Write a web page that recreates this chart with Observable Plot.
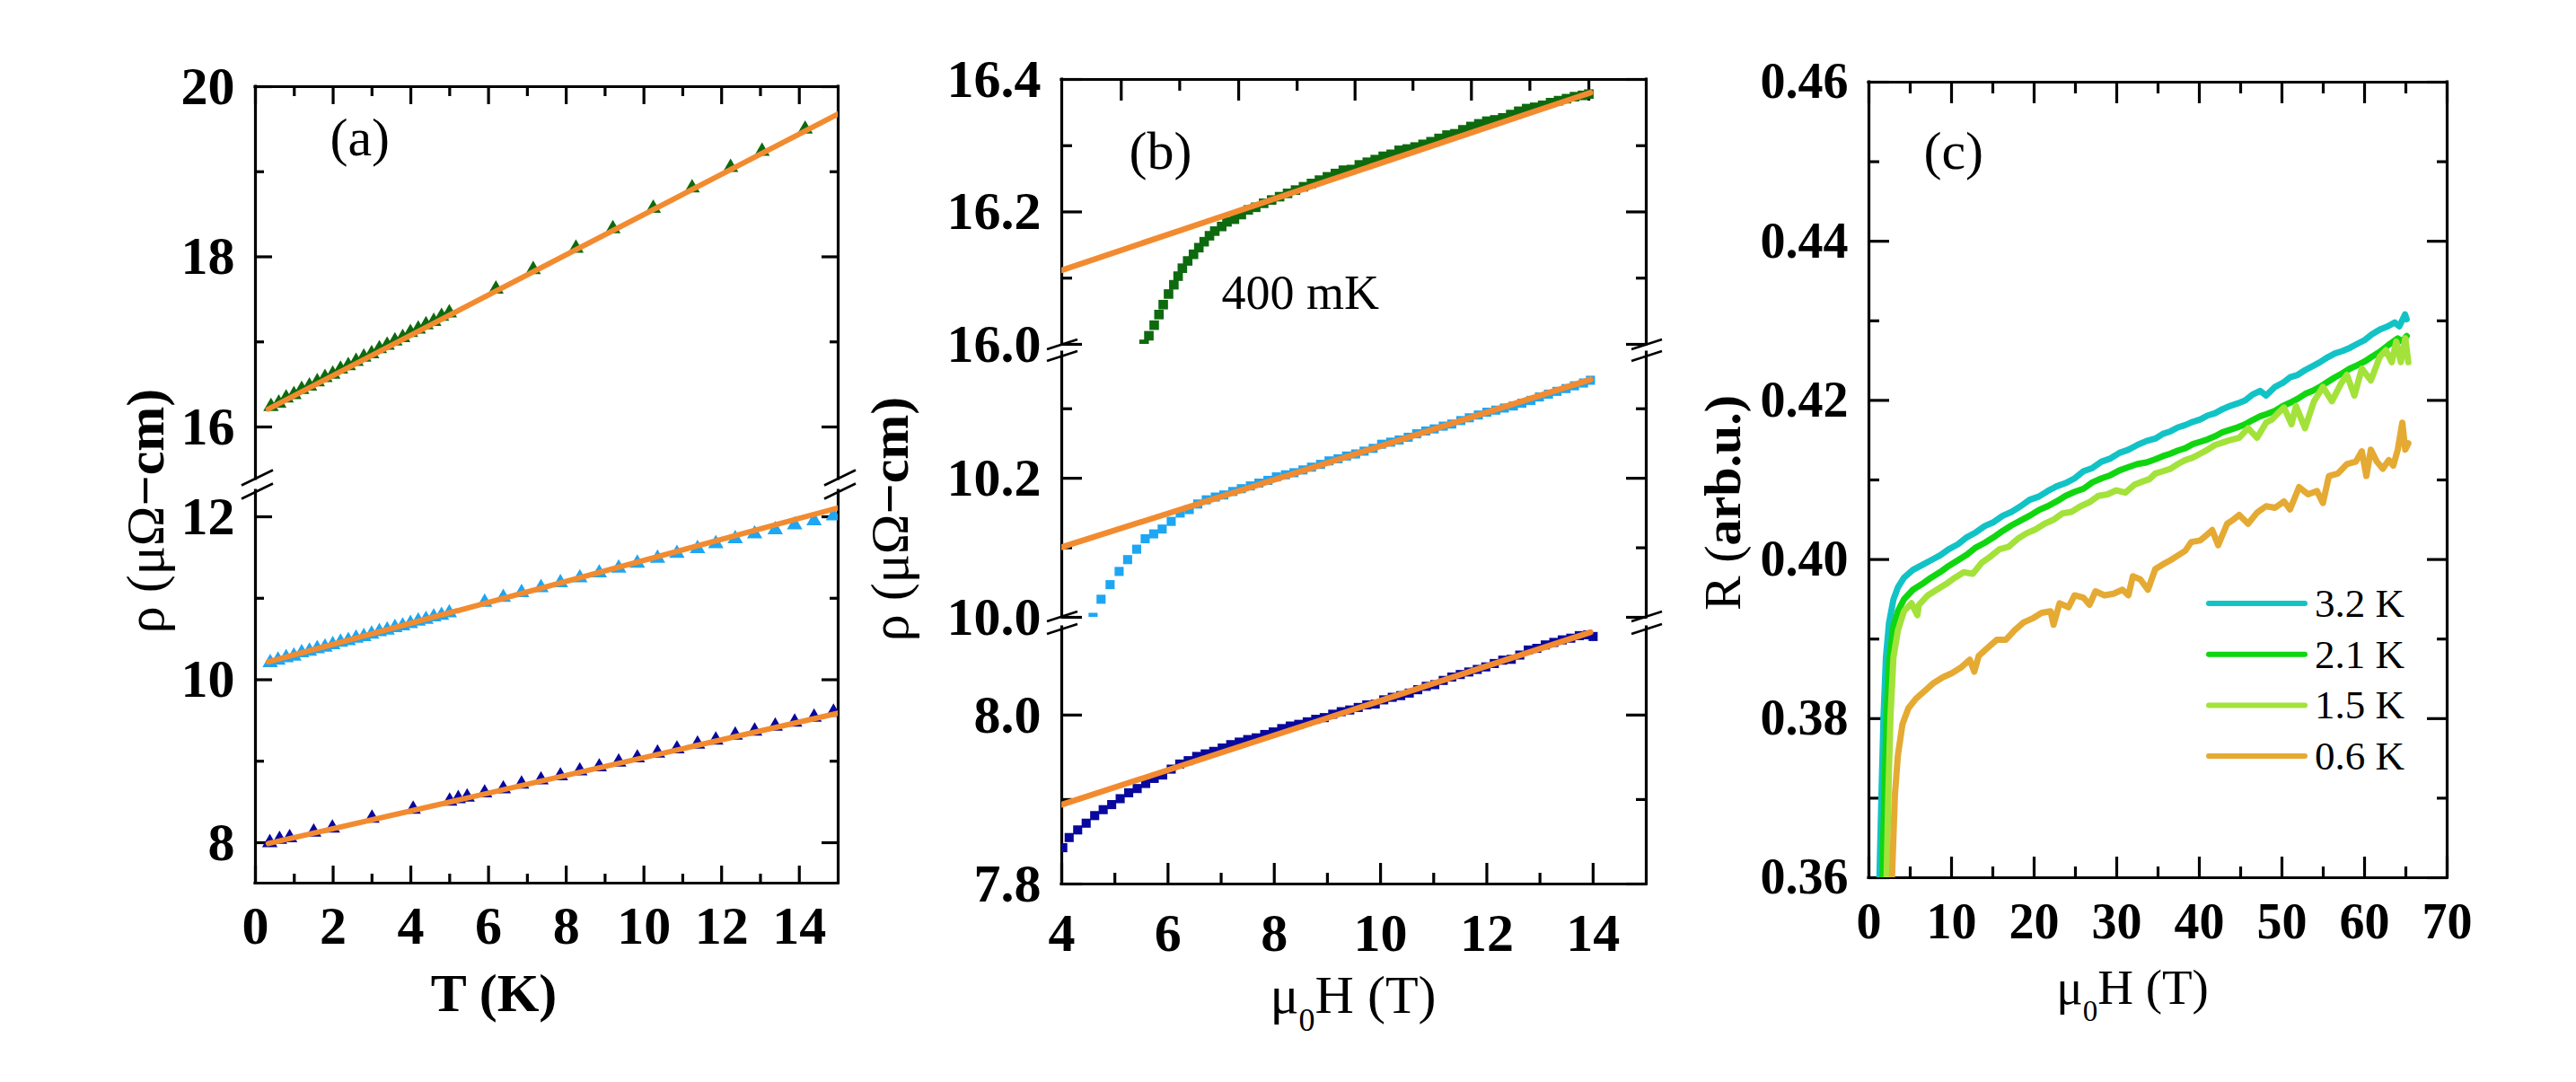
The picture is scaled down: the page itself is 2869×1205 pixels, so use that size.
<!DOCTYPE html>
<html>
<head>
<meta charset="utf-8">
<script src="https://cdn.jsdelivr.net/npm/d3@7"></script>
<script src="https://cdn.jsdelivr.net/npm/@observablehq/plot@0.6"></script>
<style>
  html, body { margin: 0; padding: 0; background: #fff; }
  #figure { position: relative; width: 2869px; height: 1205px; background: #fff; overflow: hidden; }
  #figure svg { position: absolute; left: 0; top: 0; }
</style>
</head>
<body>
<div id="figure"></div>
<script>
// ---------------- (a) resistivity vs temperature, three traces ----------------
const aTempGreen = [0.40,0.60,0.79,0.99,1.19,1.39,1.59,1.79,1.99,2.19,2.39,2.59,2.79,2.99,3.19,3.39,3.59,3.79,3.99,4.19,4.39,4.59,4.79,4.99,6.19,7.15,8.25,9.20,10.24,11.24,12.23,13.04,14.15];
const aRhoGreen  = [16.24,16.28,16.34,16.38,16.44,16.48,16.53,16.58,16.62,16.68,16.72,16.77,16.82,16.86,16.92,16.96,17.01,17.05,17.11,17.15,17.20,17.24,17.30,17.34,17.62,17.85,18.10,18.33,18.57,18.81,19.05,19.24,19.50];

const aTempBlue = [0.38,0.58,0.79,0.99,1.19,1.39,1.59,1.79,1.99,2.19,2.39,2.59,2.79,2.99,3.19,3.39,3.59,3.79,3.99,4.19,4.39,4.59,4.79,4.99,5.90,6.38,6.85,7.35,7.85,8.35,8.85,9.35,9.83,10.35,10.85,11.38,11.85,12.35,12.85,13.38,13.88,14.38,14.88];
const aRhoBlue  = [10.21,10.24,10.27,10.29,10.33,10.35,10.38,10.40,10.43,10.46,10.48,10.51,10.53,10.56,10.59,10.61,10.64,10.66,10.69,10.72,10.74,10.77,10.79,10.82,10.95,11.01,11.07,11.13,11.19,11.25,11.31,11.37,11.43,11.49,11.55,11.61,11.67,11.73,11.79,11.84,11.90,11.95,12.01];

const aTempNavy = [0.37,0.62,0.88,1.50,1.98,3.00,4.06,5.00,5.22,5.45,5.90,6.38,6.85,7.35,7.85,8.35,8.85,9.35,9.83,10.35,10.85,11.38,11.85,12.35,12.85,13.38,13.88,14.38,14.88];
const aRhoNavy  = [8.00,8.04,8.06,8.13,8.18,8.30,8.41,8.51,8.54,8.56,8.61,8.66,8.72,8.77,8.82,8.88,8.93,8.99,9.04,9.10,9.15,9.21,9.26,9.32,9.37,9.43,9.48,9.54,9.60];

// linear fits (end points)
const aFitT     = [0.33, 15];
const aFitGreen = [16.21, 19.68];
const aFitBlue  = [10.22, 12.11];
const aFitNavy  = [7.99, 9.59];

const aTempTicks = [0, 2, 4, 6, 8, 10, 12, 14];
const aTempMinor = [1, 3, 5, 7, 9, 11, 13];
const aRhoTicksUpper = [16, 18, 20];
const aRhoMinorUpper = [17, 19];
const aRhoTicksLower = [8, 10, 12];
const aRhoMinorLower = [9, 11];

// ---------------- (b) resistivity vs field ----------------
const bFieldGreen = [5.55,5.64,5.74,5.83,5.91,6.01,6.11,6.19,6.27,6.37,6.48,6.58,6.68,6.78,6.88,7.01,7.11,7.25,7.38,7.51,7.65,7.80,7.95,8.10,8.25,8.40,8.55,8.70,8.85,9.00,9.15,9.30,9.45,9.60,9.75,9.90,10.05,10.20,10.35,10.50,10.65,10.80,10.95,11.10,11.25,11.40,11.55,11.70,11.85,12.00,12.15,12.30,12.45,12.60,12.75,12.90,13.05,13.20,13.35,13.50,13.65,13.80,13.92];
const bRhoGreen   = [16.000,16.013,16.029,16.045,16.060,16.076,16.090,16.103,16.115,16.126,16.136,16.146,16.155,16.164,16.171,16.178,16.185,16.189,16.196,16.203,16.207,16.213,16.218,16.223,16.228,16.233,16.238,16.243,16.248,16.253,16.258,16.263,16.264,16.271,16.275,16.279,16.284,16.287,16.293,16.295,16.298,16.302,16.306,16.311,16.316,16.318,16.324,16.329,16.333,16.337,16.339,16.342,16.347,16.352,16.356,16.358,16.361,16.365,16.368,16.371,16.374,16.376,16.378];

const bFieldBlue = [4.59,4.74,4.91,5.08,5.24,5.41,5.57,5.73,5.89,6.06,6.23,6.40,6.56,6.72,6.89,7.05,7.22,7.38,7.55,7.71,7.88,8.04,8.21,8.37,8.54,8.70,8.87,9.03,9.20,9.36,9.53,9.69,9.86,10.02,10.19,10.35,10.52,10.68,10.85,11.01,11.18,11.34,11.51,11.67,11.84,12.00,12.17,12.33,12.50,12.66,12.83,12.99,13.16,13.32,13.49,13.65,13.82,13.95];
const bRhoBlue   = [10.000,10.026,10.047,10.066,10.083,10.098,10.113,10.120,10.127,10.138,10.150,10.155,10.163,10.169,10.173,10.176,10.181,10.185,10.189,10.193,10.197,10.202,10.205,10.208,10.212,10.216,10.220,10.225,10.228,10.232,10.235,10.239,10.243,10.249,10.252,10.255,10.259,10.264,10.268,10.271,10.275,10.278,10.283,10.287,10.291,10.295,10.298,10.301,10.304,10.308,10.312,10.317,10.321,10.325,10.329,10.333,10.337,10.341];

const bFieldNavy = [4.02,4.14,4.30,4.46,4.62,4.78,4.94,5.10,5.26,5.42,5.58,5.74,5.90,6.06,6.22,6.38,6.54,6.70,6.86,7.02,7.18,7.34,7.50,7.66,7.82,7.98,8.14,8.30,8.46,8.62,8.78,8.94,9.10,9.26,9.42,9.58,9.74,9.90,10.06,10.22,10.38,10.54,10.70,10.86,11.02,11.18,11.34,11.50,11.66,11.82,11.98,12.14,12.30,12.46,12.62,12.78,12.94,13.10,13.26,13.42,13.58,13.74,13.90,14.00];
const bRhoNavy   = [7.843,7.855,7.864,7.872,7.881,7.888,7.894,7.901,7.908,7.913,7.919,7.925,7.929,7.936,7.942,7.946,7.951,7.954,7.957,7.961,7.965,7.968,7.971,7.973,7.977,7.980,7.984,7.987,7.989,7.992,7.995,7.997,8.001,8.004,8.006,8.009,8.012,8.013,8.018,8.021,8.023,8.026,8.030,8.034,8.036,8.041,8.045,8.048,8.051,8.054,8.057,8.061,8.065,8.066,8.071,8.077,8.079,8.083,8.086,8.089,8.091,8.094,8.095,8.093];

const bFitField = [4.0, 13.95];
const bFitGreen = [16.112, 16.380];
const bFitBlue  = [10.101, 10.342];
const bFitNavy  = [7.894, 8.098];

const bFieldTicks    = [4, 6, 8, 10, 12, 14];
const bFieldMinor    = [5, 7, 9, 11, 13];
const bFieldTopTicks = [5.12, 7.33, 9.52, 11.71, 13.92];
const bFieldTopMinor = [6.22, 8.43, 10.61, 12.81];
const bRhoTicksUpper = [16.0, 16.2, 16.4];
const bRhoMinorUpper = [16.1, 16.3];
const bRhoTicksMiddle = [10.0, 10.2];
const bRhoMinorMiddle = [10.1, 10.3];
const bRhoTicksLower = [7.8, 8.0];
const bRhoMinorLower = [7.9];
const bNote = "400 mK";

// ---------------- (c) high-field resistance ----------------
const cTempLabels = ["3.2 K", "2.1 K", "1.5 K", "0.6 K"];
const cColors = ["#12c3c6", "#10d610", "#a3e23a", "#e5aa33"];

const cField32 = [1.27,1.52,1.77,2.06,2.43,2.97,3.51,4.24,5.33,6.41,7.50,8.59,9.67,10.76,11.85,12.93,14.02,15.10,16.20,17.28,18.37,19.45,20.54,21.63,22.71,23.80,24.89,25.98,27.06,28.15,29.24,30.32,31.41,32.50,33.60,34.67,35.60,36.49,37.40,38.30,39.20,40.11,41.00,41.92,42.80,43.73,44.60,45.54,46.40,47.35,48.08,49.17,50.10,50.98,51.90,52.79,53.70,54.60,55.50,56.41,57.30,58.22,59.10,60.04,60.90,61.85,62.80,63.66,64.20,64.90,65.10];
const cR32     = [0.3600,0.3705,0.3803,0.3877,0.3920,0.3950,0.3965,0.3977,0.3987,0.3993,0.3999,0.4005,0.4013,0.4019,0.4028,0.4034,0.4042,0.4047,0.4055,0.4060,0.4067,0.4075,0.4079,0.4086,0.4092,0.4096,0.4102,0.4111,0.4115,0.4123,0.4127,0.4134,0.4138,0.4144,0.4149,0.4152,0.4158,0.4161,0.4166,0.4169,0.4173,0.4176,0.4181,0.4184,0.4189,0.4193,0.4196,0.4200,0.4207,0.4212,0.4206,0.4217,0.4222,0.4229,0.4232,0.4238,0.4243,0.4248,0.4254,0.4259,0.4262,0.4266,0.4271,0.4276,0.4283,0.4289,0.4293,0.4298,0.4293,0.4308,0.4302];

const cField21 = [1.63,1.88,2.14,2.50,2.97,3.51,4.24,5.33,6.41,7.50,8.59,9.67,10.76,11.85,12.93,14.02,15.10,16.20,17.28,18.37,19.45,20.54,21.63,22.71,23.80,24.89,25.98,27.06,28.15,29.24,30.32,31.41,32.50,33.60,34.67,35.60,36.49,37.40,38.30,39.20,40.11,41.00,41.92,42.80,43.73,44.60,45.54,46.40,47.35,48.20,49.17,50.10,50.98,51.90,52.79,53.70,54.60,55.50,56.41,57.30,58.22,59.10,60.04,60.90,61.85,62.94,64.02,64.57,65.10];
const cR21     = [0.3600,0.3705,0.3803,0.3877,0.3916,0.3935,0.3950,0.3962,0.3969,0.3977,0.3984,0.3992,0.3999,0.4006,0.4015,0.4021,0.4028,0.4036,0.4043,0.4049,0.4055,0.4062,0.4067,0.4073,0.4080,0.4085,0.4089,0.4097,0.4102,0.4106,0.4112,0.4116,0.4120,0.4122,0.4126,0.4130,0.4133,0.4137,0.4140,0.4145,0.4148,0.4151,0.4155,0.4160,0.4163,0.4166,0.4170,0.4175,0.4180,0.4183,0.4187,0.4193,0.4197,0.4202,0.4208,0.4212,0.4217,0.4223,0.4229,0.4234,0.4240,0.4244,0.4249,0.4255,0.4261,0.4270,0.4278,0.4274,0.4281];

const cField15 = [2.14,2.35,2.61,2.97,3.51,4.24,5.15,5.87,6.05,7.14,8.22,9.31,10.40,11.48,12.57,13.66,14.75,15.83,16.92,18.01,19.09,20.18,21.27,22.35,23.44,24.53,25.62,26.70,27.79,28.88,29.96,31.05,32.14,32.86,33.95,34.67,35.60,36.49,37.40,38.30,39.20,40.11,41.00,41.92,42.80,43.73,44.82,45.90,46.99,48.08,48.80,49.53,50.25,51.16,51.70,52.79,53.88,54.96,56.05,57.14,57.86,58.77,59.67,60.76,61.85,62.58,63.30,63.84,64.39,64.93,65.30];
const cR15     = [0.3600,0.3705,0.3803,0.3877,0.3911,0.3935,0.3945,0.3930,0.3943,0.3955,0.3962,0.3969,0.3977,0.3984,0.3982,0.3996,0.4004,0.4013,0.4016,0.4026,0.4033,0.4038,0.4045,0.4050,0.4058,0.4060,0.4067,0.4072,0.4080,0.4082,0.4087,0.4084,0.4094,0.4097,0.4101,0.4108,0.4111,0.4114,0.4120,0.4125,0.4128,0.4133,0.4138,0.4144,0.4147,0.4150,0.4153,0.4165,0.4153,0.4172,0.4176,0.4184,0.4191,0.4170,0.4193,0.4165,0.4199,0.4217,0.4199,0.4221,0.4232,0.4206,0.4240,0.4225,0.4255,0.4263,0.4248,0.4274,0.4248,0.4278,0.4248];

const cField06 = [2.79,3.15,3.51,4.06,4.78,5.69,6.77,7.86,8.95,10.03,11.12,12.21,12.75,13.30,14.38,15.47,16.56,17.64,18.73,19.82,20.90,21.99,22.35,23.08,24.17,24.89,25.98,26.70,27.43,28.51,29.60,30.69,31.41,31.95,32.86,33.77,34.67,35.60,36.49,37.40,38.30,39.02,40.11,40.80,41.56,42.28,43.37,44.10,44.82,45.90,46.99,48.08,49.17,50.25,50.98,52.07,53.16,54.24,54.96,55.69,56.77,57.86,58.95,59.67,60.22,60.76,61.49,62.21,62.94,63.48,64.02,64.57,64.93,65.30];
const cR06     = [0.3600,0.3705,0.3754,0.3793,0.3813,0.3825,0.3835,0.3845,0.3852,0.3857,0.3864,0.3874,0.3859,0.3879,0.3889,0.3899,0.3899,0.3911,0.3921,0.3926,0.3933,0.3935,0.3918,0.3945,0.3940,0.3955,0.3952,0.3943,0.3960,0.3955,0.3957,0.3962,0.3955,0.3979,0.3975,0.3962,0.3988,0.3994,0.3999,0.4005,0.4011,0.4022,0.4024,0.4030,0.4037,0.4018,0.4045,0.4050,0.4056,0.4045,0.4059,0.4067,0.4065,0.4073,0.4063,0.4091,0.4082,0.4086,0.4071,0.4105,0.4108,0.4120,0.4123,0.4136,0.4105,0.4138,0.4123,0.4114,0.4125,0.4118,0.4138,0.4172,0.4138,0.4146];

const cFieldTicks = [0, 10, 20, 30, 40, 50, 60, 70];
const cFieldMinor = [5, 15, 25, 35, 45, 55, 65];
const cRTicks = [0.36, 0.38, 0.40, 0.42, 0.44, 0.46];
const cRMinor = [0.37, 0.39, 0.41, 0.43, 0.45];

// ---------------- drawing ----------------
const W = 2869, H = 1205;
const FONT = '"Liberation Serif", "Times New Roman", Times, serif';
const AXIS_W = 3.2;
const ORANGE = "#f28b30";
const DARK_GREEN = "#0e6a0e";
const SKY = "#1ea6f2";
const NAVY = "#08089e";
const root = document.getElementById("figure");

// Each frame segment is its own page-sized plot; margins place the frame.
function draw(frame, xDomain, yDomain, marks) {
  const [x0, y0, x1, y1] = frame;
  const svg = Plot.plot({
    width: W, height: H,
    marginLeft: x0, marginTop: y0, marginRight: W - x1, marginBottom: H - y1,
    x: {domain: xDomain, axis: null},
    y: {domain: yDomain, axis: null},
    style: {background: "transparent", overflow: "visible", fontFamily: FONT, fontSize: "60px", fontWeight: "bold", color: "#000", maxWidth: "none"},
    marks: marks.flat(Infinity).filter(Boolean)
  });
  root.append(svg);
}

// frame sides: verticals always, horizontals only where the axis is not broken
function sides(xDomain, yEdges) {
  return [
    Plot.ruleX(xDomain, {stroke: "#000", strokeWidth: AXIS_W, strokeLinecap: "square"}),
    Plot.ruleY(yEdges, {stroke: "#000", strokeWidth: AXIS_W, strokeLinecap: "square"})
  ];
}

// inward ticks on both vertical sides
function yTicks(values, size) {
  return [
    Plot.axisY(values, {anchor: "left", tickSize: size, dx: size, tickFormat: () => "", strokeWidth: AXIS_W, label: null}),
    Plot.axisY(values, {anchor: "right", tickSize: size, dx: -size, tickFormat: () => "", strokeWidth: AXIS_W, label: null})
  ];
}
function xTicks(values, size, anchors) {
  return anchors.map(anchor => Plot.axisX(values, {anchor, tickSize: size, dy: anchor === "bottom" ? -size : size, tickFormat: () => "", strokeWidth: AXIS_W, label: null}));
}
function yLabels(values, format, fontSize = 60) {
  return Plot.axisY(values, {anchor: "left", tickSize: 0, tickPadding: 23, tickFormat: format, fontSize, label: null});
}
function xLabels(values, pad, format, fontSize = 60) {
  return Plot.axisX(values, {anchor: "bottom", tickSize: 0, tickPadding: pad, tickFormat: format, fontSize, label: null});
}

// axis-break slashes on both vertical sides at a segment edge
function slashes(edge, offset, [ax, ay, bx, by]) {
  return (index, scales, values, dim) => {
    const g = d3.create("svg:g").attr("stroke", "#000").attr("stroke-width", 2.6).attr("fill", "none");
    const y = (edge === "top" ? dim.marginTop : dim.height - dim.marginBottom) + offset;
    for (const x of [dim.marginLeft, dim.width - dim.marginRight]) {
      g.append("line").attr("x1", x + ax).attr("y1", y + ay).attr("x2", x + bx).attr("y2", y + by);
    }
    return g.node();
  };
}

// axis title with mixed weights / subscript
function title(x, y, rotate, spans, size = 60) {
  return () => {
    const t = d3.create("svg:text")
      .attr("transform", `translate(${x},${y}) rotate(${rotate})`)
      .attr("text-anchor", "middle")
      .attr("fill", "#000")
      .style("font-family", FONT)
      .style("font-size", `${size}px`);
    for (const s of spans) {
      const span = t.append("tspan")
        .style("font-weight", s.bold ? "bold" : "normal")
        .attr("dy", s.dy ?? null)
        .text(s.text);
      if (s.size) span.style("font-size", `${s.size}px`);
    }
    return t.node();
  };
}

function panelTag(tag, dx, dy) {
  return Plot.text([tag], {text: d => d, frameAnchor: "top-left", dx, dy, lineAnchor: "bottom", textAnchor: "start", fontSize: 60, fontWeight: "normal"});
}

function legend(labels, colors, x0, x1, y0, step) {
  return () => {
    const g = d3.create("svg:g");
    labels.forEach((label, i) => {
      const y = y0 + i * step;
      g.append("line").attr("x1", x0).attr("x2", x1).attr("y1", y).attr("y2", y)
        .attr("stroke", colors[i]).attr("stroke-width", 6).attr("stroke-linecap", "round");
      g.append("text").attr("x", x1 + 11).attr("y", y + 15)
        .attr("text-anchor", "start").attr("fill", "#000")
        .style("font-family", FONT).style("font-size", "45px").style("font-weight", "normal")
        .text(label);
    });
    return g.node();
  };
}

const rhoTitle = [{text: "ρ (μΩ"}, {text: "−cm)", bold: true}];
const fieldTitle = [{text: "μ"}, {text: "0", size: 36, dy: 20}, {text: "H (T)", dy: -20}];
const fieldTitleC = [{text: "μ"}, {text: "0", size: 33, dy: 19}, {text: "H (T)", dy: -19}];
const triangle = (data, x, fill) => Plot.dot(data, {x, y: data, symbol: "triangle", r: 6.4, fill, clip: true});
const square = (data, x, fill, r = 5.7) => Plot.dot(data, {x, y: data, symbol: "square", r, fill, clip: true});
const fit = (data, x, w = 6) => Plot.line(data, {x, y: data, stroke: ORANGE, strokeWidth: w, clip: true});

const slashA = [-15, 7.5, 20, -9.5];
const slashB = [-16, 5, 18, -6];

// (a) upper segment
draw([284, 96, 933, 533], [0, 15], [15.388, 20], [
  sides([0, 15], [20]),
  yTicks(aRhoTicksUpper, 19), yTicks(aRhoMinorUpper, 10),
  xTicks(aTempTicks, 19, ["top"]), xTicks(aTempMinor, 10, ["top"]),
  yLabels(aRhoTicksUpper, d3.format("d")),
  triangle(aRhoGreen, aTempGreen, DARK_GREEN),
  fit(aFitGreen, aFitT),
  panelTag("(a)", 83, 76),
  slashes("bottom", 0, slashA)
]);

// (a) lower segment
draw([284, 546, 933, 983], [0, 15], [7.504, 12.32], [
  sides([0, 15], [7.504]),
  yTicks(aRhoTicksLower, 19), yTicks(aRhoMinorLower, 10),
  xTicks(aTempTicks, 19, ["bottom"]), xTicks(aTempMinor, 10, ["bottom"]),
  yLabels(aRhoTicksLower, d3.format("d")),
  xLabels(aTempTicks, 24.5, d3.format("d")),
  triangle(aRhoBlue, aTempBlue, SKY),
  triangle(aRhoNavy, aTempNavy, NAVY),
  fit(aFitBlue, aFitT),
  fit(aFitNavy, aFitT),
  slashes("top", 2, slashA),
  title(182, 569, -90, rhoTitle),
  title(550, 1126, 0, [{text: "T (K)", bold: true}])
]);

// (b) upper segment
draw([1182, 88, 1833, 383], [4, 15], [16.0, 16.4], [
  sides([4, 15], [16.4]),
  yTicks(bRhoTicksUpper, 23), yTicks(bRhoMinorUpper, 12),
  xTicks(bFieldTopTicks, 23, ["top"]), xTicks(bFieldTopMinor, 12, ["top"]),
  yLabels(bRhoTicksUpper, d3.format(".1f")),
  square(bRhoGreen, bFieldGreen, DARK_GREEN, 6.0),
  fit(bFitGreen, bFitField, 6.5),
  panelTag("(b)", 75, 99),
  Plot.text([bNote], {text: d => d, frameAnchor: "top-left", dx: 178, dy: 255, lineAnchor: "bottom", textAnchor: "start", fontSize: 54, fontWeight: "normal"}),
  slashes("bottom", 1, slashB)
]);

// (b) middle segment
draw([1182, 392, 1833, 687], [4, 15], [10.0, 10.381], [
  sides([4, 15], []),
  yTicks(bRhoTicksMiddle, 23), yTicks(bRhoMinorMiddle, 12),
  yLabels(bRhoTicksMiddle, d3.format(".1f")),
  square(bRhoBlue, bFieldBlue, SKY),
  fit(bFitBlue, bFitField, 6.5),
  slashes("top", 5, slashB),
  slashes("bottom", 0, slashB),
  title(1011, 578, -90, rhoTitle)
]);

// (b) lower segment
draw([1182, 698, 1833, 984], [4, 15], [7.8, 8.104], [
  sides([4, 15], [7.8]),
  yTicks(bRhoTicksLower, 23), yTicks(bRhoMinorLower, 12),
  xTicks(bFieldTicks, 23, ["bottom"]), xTicks(bFieldMinor, 12, ["bottom"]),
  yLabels(bRhoTicksLower, d3.format(".1f")),
  xLabels(bFieldTicks, 32, d3.format("d")),
  square(bRhoNavy, bFieldNavy, NAVY),
  fit(bFitNavy, bFitField, 6.5),
  slashes("top", 3, slashB),
  title(1507, 1128, 0, fieldTitle)
]);

// (c)
const cSeries = [[cField32, cR32], [cField21, cR21], [cField15, cR15], [cField06, cR06]];
draw([2081, 91, 2725, 977], [0, 70], [0.36, 0.46], [
  sides([0, 70], [0.36, 0.46]),
  yTicks(cRTicks, 23), yTicks(cRMinor, 12),
  xTicks(cFieldTicks, 23, ["top", "bottom"]), xTicks(cFieldMinor, 12, ["top", "bottom"]),
  yLabels(cRTicks, d3.format(".2f"), 56),
  xLabels(cFieldTicks, 28, d3.format("d"), 56),
  cSeries.map(([h, r], i) => Plot.line(r, {x: h, y: r, stroke: cColors[i], strokeWidth: 7, strokeLinejoin: "round", strokeLinecap: "round", clip: true})),
  panelTag("(c)", 61, 96),
  legend(cTempLabels, cColors, 2460, 2567, 672, 56.7),
  title(1938, 560, -90, [{text: "R ("}, {text: "arb.u.)", bold: true}], 58),
  title(2375, 1118, 0, fieldTitleC, 55)
]);
</script>
</body>
</html>
